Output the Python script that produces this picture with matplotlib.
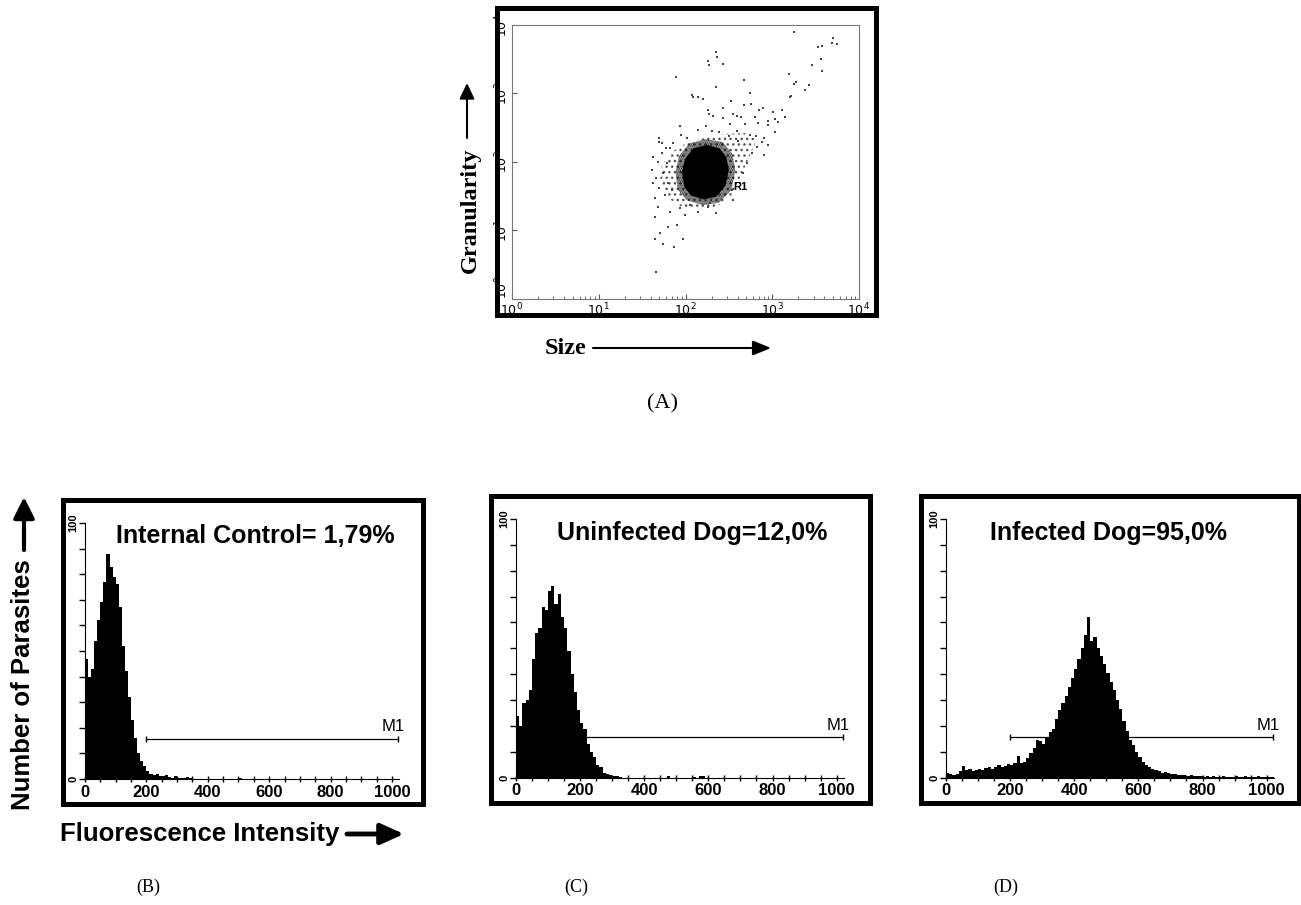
import numpy as np
import matplotlib.pyplot as plt
from matplotlib.patches import Rectangle

plt.rcParams['font.family'] = ['Liberation Sans', 'DejaVu Sans']
plt.rcParams['hatch.linewidth'] = 1.0

W, H = 1301, 905

# ---- (A) dot plot, values as log10(size), log10(granularity) ----
sparse_size_log = [3.252, 3.702, 3.690, 3.748, 3.579, 3.533, 2.354, 2.358, 3.560, 2.262,
                   2.270, 2.431, 3.460, 3.579, 3.195, 1.893, 2.676, 3.272, 3.252, 3.425,
                   2.350, 3.379, 2.742, 2.074, 2.146, 2.204, 3.214, 2.523, 2.676, 2.750,
                   2.888, 2.435, 2.254, 3.107, 2.849, 3.007, 2.550, 2.266, 2.589, 2.642,
                   2.796, 3.145, 2.427, 2.319, 2.946, 3.034, 3.072, 2.831, 2.688, 2.512,
                   1.935, 2.231, 2.946, 3.030, 2.596, 2.381, 2.143, 1.690, 1.697, 1.732,
                   2.877, 2.903, 2.742, 2.811, 2.012, 1.820, 2.089, 3.203,
                   1.628, 1.609, 1.628, 1.647, 1.685, 1.647, 1.820, 1.935, 1.897, 1.801,
                   1.705, 1.973, 1.647, 1.736, 1.866, 1.659, 2.146, 2.262, 1.743, 1.782,
                   1.725, 1.840, 2.704, 2.665, 2.819, 2.762, 2.627, 2.531, 2.281, 2.051,
                   1.660, 1.700, 1.760, 1.680, 1.800, 1.780, 1.860, 1.950, 2.300, 2.500,
                   2.600, 2.900, 2.950, 2.550, 2.350, 1.990]
sparse_gran_log = [3.893, 3.815, 3.742, 3.723, 3.698, 3.679, 3.610, 3.538, 3.504, 3.474,
                   3.416, 3.435, 3.416, 3.324, 3.280, 3.241, 3.197, 3.173, 3.139, 3.124,
                   3.100, 3.047, 3.012, 2.978, 2.949, 2.920, 2.964, 2.891, 2.832, 2.842,
                   2.784, 2.784, 2.759, 2.755, 2.759, 2.725, 2.705, 2.696, 2.672, 2.661,
                   2.652, 2.661, 2.647, 2.676, 2.599, 2.628, 2.580, 2.574, 2.550, 2.550,
                   2.530, 2.526, 2.540, 2.442, 2.453, 2.434, 2.467, 2.355, 2.288, 2.273,
                   2.297, 2.346, 2.394, 2.384, 2.346, 2.209, 2.953, 2.949,
                   2.077, 1.883, 1.689, 1.470, 1.347, 1.201, 1.274, 1.324, 1.080, 1.047,
                   0.959, 0.876, 0.872, 0.803, 0.755, 0.399, 1.274, 1.347, 1.835, 1.981,
                   2.127, 1.591, 1.981, 1.835, 2.223, 2.127, 1.689, 1.591, 1.397, 1.372,
                   1.760, 1.620, 1.520, 2.000, 1.700, 2.200, 2.280, 2.400, 2.450, 2.380,
                   2.300, 2.100, 2.250, 1.450, 1.250, 1.220]

# dense core of the R1 population (outline of the solid black blob)
core_size_log = [2.500, 2.470, 2.390, 2.245, 2.090, 1.995, 1.960, 1.985, 2.060, 2.200, 2.350, 2.460]
core_gran_log = [1.883, 2.075, 2.200, 2.250, 2.200, 2.045, 1.854, 1.640, 1.515, 1.455, 1.490, 1.650]

ring_size_log = [2.575, 2.540, 2.430, 2.235, 2.040, 1.925, 1.885, 1.910, 2.010, 2.200, 2.385, 2.530]
ring_gran_log = [1.883, 2.120, 2.290, 2.335, 2.270, 2.085, 1.854, 1.600, 1.445, 1.370, 1.405, 1.590]

halo_size_log = [2.627, 2.719, 2.823, 2.684, 2.454, 2.224, 2.028, 1.843, 1.728, 1.705,
                 1.797, 1.959, 2.166, 2.373, 2.535]
halo_gran_log = [1.766, 2.029, 2.321, 2.423, 2.409, 2.350, 2.292, 2.146, 1.956, 1.708,
                 1.474, 1.343, 1.299, 1.358, 1.518]

decades = [1, 10, 100, 1000, 10000]
decade_labels = ['$10^0$', '$10^1$', '$10^2$', '$10^3$', '$10^4$']

# ---- (B)-(D) histograms: counts per 10-channel bin, channels 0..1029 ----
channel_edges = np.arange(0, 1040, 10)

control_counts = [47, 40, 43, 54, 62, 69, 77, 88, 83, 79,
                  76, 67, 52, 42, 32, 23, 16, 10, 7, 5,
                  3, 2, 1.5, 2, 1.2, 1, 1.5, 0.8, 0.5, 1,
                  0.5, 0.4, 0.3, 0.8, 0.3, 0, 0, 0, 0, 0,
                  0, 0, 0, 0, 0, 0, 0, 0, 0, 0,
                  0.3, 0, 0, 0, 0, 0, 0, 0, 0, 0,
                  0, 0, 0, 0, 0, 0, 0, 0, 0, 0,
                  0, 0, 0, 0, 0, 0, 0, 0, 0, 0,
                  0, 0, 0, 0, 0, 0, 0, 0, 0, 0,
                  0, 0, 0, 0, 0, 0, 0, 0, 0, 0,
                  0, 0, 0]
uninfected_counts = [24, 20, 29, 30, 34, 46, 56, 58, 66, 65,
                     72, 74, 67, 71, 62, 58, 49, 40, 33, 26,
                     21, 19, 13, 10, 8, 5, 4, 2, 1.5, 1,
                     0.8, 0.5, 0.3, 0, 0, 0, 0, 0, 0, 0,
                     0, 0, 0, 0, 0, 0, 0, 0.5, 0, 0,
                     0, 0, 0, 0, 0, 0.3, 0, 0.8, 0.5, 0,
                     0, 0, 0, 0, 0, 0, 0, 0, 0, 0,
                     0, 0, 0, 0, 0, 0, 0, 0, 0, 0,
                     0, 0, 0, 0, 0, 0, 0, 0, 0, 0,
                     0, 0, 0, 0, 0, 0, 0, 0, 0, 0,
                     0, 0, 0]
infected_counts = [2, 1.5, 1, 1.5, 2.5, 4.5, 3, 3.5, 2.5, 3,
                   3.5, 3, 3.8, 4.2, 3.5, 4.3, 4.8, 4, 4.4, 5.2,
                   5, 5.5, 8.5, 5.5, 6.2, 7.5, 9.5, 11.5, 14.5, 14,
                   13, 15.5, 17.5, 19, 22.5, 26, 29, 31.5, 35, 38.5,
                   42, 46, 50, 55, 62, 53, 54.5, 50, 47, 44,
                   40.5, 37, 34, 30, 26.5, 22, 18, 14.5, 12.5, 10,
                   8, 6, 5, 4, 3.5, 3, 2.5, 2, 2.2, 1.8,
                   1.5, 1.6, 1.2, 1, 1.1, 0.8, 0.9, 0.6, 0.5, 0.6,
                   0.4, 0.5, 0.3, 0.5, 0.4, 0.3, 0.5, 0.3, 0.4, 0.3,
                   0.5, 0.3, 0.4, 0.6, 0.3, 0.4, 0.3, 0.5, 0.3, 0.4,
                   0.3, 0.4, 0.3]

hist_titles = ['Internal Control= 1,79%', 'Uninfected Dog=12,0%', 'Infected Dog=95,0%']
marker_range = [200, 1020]
marker_level = 15.6


def fig_rect(x0, y0, x1, y1):
    """pixel box (top-left origin) -> figure fraction rect"""
    return [x0 / W, 1 - y1 / H, (x1 - x0) / W, (y1 - y0) / H]


fig = plt.figure(figsize=(W / 100, H / 100), dpi=100)

# --- scatter panel ---
ax = fig.add_axes(fig_rect(512, 25, 859, 299))
ax.set_xscale('log')
ax.set_yscale('log')
ax.fill(10 ** np.array(halo_size_log), 10 ** np.array(halo_gran_log),
        facecolor='none', edgecolor='#555555', hatch='...', lw=0)
ax.fill(10 ** np.array(ring_size_log), 10 ** np.array(ring_gran_log),
        facecolor='none', edgecolor='black', hatch='.........', lw=0)
ax.fill(10 ** np.array(core_size_log), 10 ** np.array(core_gran_log), color='black', lw=0)
ax.scatter(10 ** np.array(sparse_size_log), 10 ** np.array(sparse_gran_log),
           s=0.9, marker='s', color='#444444', lw=0)
ax.text(10 ** 2.627, 10 ** 1.64, 'R1', fontsize=8, fontweight='bold', ha='center', va='center')
ax.set_xlim(1, 10000)
ax.set_ylim(1, 10000)
ax.set_xticks(decades)
ax.set_xticklabels(decade_labels, fontsize=9)
ax.set_yticks(decades)
ylabs = ax.set_yticklabels(decade_labels, fontsize=9, rotation=90, va='center')
ylabs[0].set_va('bottom')
ax.yaxis.set_minor_locator(plt.NullLocator())
ax.tick_params(which='both', direction='in', color='#555555', pad=2)
ax.tick_params(axis='y', pad=1)
ax.tick_params(which='major', length=3.5)
ax.tick_params(which='minor', length=2.5)
for s in ax.spines.values():
    s.set_color('#777777')
    s.set_linewidth(0.8)

# --- histograms ---
hist_boxes = [(85, 523, 399, 779), (516, 519, 844, 777.7), (946, 519, 1274, 777.7)]
for box, counts in zip(hist_boxes, [control_counts, uninfected_counts, infected_counts]):
    hx = fig.add_axes(fig_rect(*box))
    hx.patch.set_alpha(0)
    hx.plot(marker_range, [marker_level, marker_level], color='black', lw=0.9)
    hx.plot(marker_range, [marker_level, marker_level], ls='none', marker='|',
            color='black', ms=5, mew=1)
    hx.stairs(counts, channel_edges, fill=True, color='black', lw=0)
    hx.text(1005, marker_level + 1.8, 'M1', fontsize=12, ha='center', va='bottom')
    hx.set_xlim(0, 1023)
    hx.set_ylim(0, 100)
    hx.spines[['top', 'right']].set_visible(False)
    hx.set_xticks([0, 200, 400, 600, 800, 1000])
    hx.set_xticklabels(['0', '200', '400', '600', '800', '1000'], fontsize=12, fontweight='bold')
    hx.set_xticks(np.arange(0, 1001, 50), minor=True)
    hx.set_yticks(np.arange(0, 101, 10))
    hx.set_yticklabels(['0'] + [''] * 9 + ['100'], fontsize=8, fontweight='bold',
                       rotation=90, va='center')
    hx.tick_params(axis='x', which='both', direction='inout', length=4, width=1, pad=2)
    hx.tick_params(axis='y', direction='out', length=4, width=1, pad=1)

# --- overlay in pixel coordinates: frames, labels, arrows ---
ov = fig.add_axes([0, 0, 1, 1])
ov.set_xlim(0, W)
ov.set_ylim(H, 0)
ov.axis('off')
ov.patch.set_alpha(0)

frames = [(494, 6, 878, 318), (60, 497, 425, 806), (488, 493, 872, 805), (918, 493, 1301, 805)]
for x0, y0, x1, y1 in frames:
    ov.add_patch(Rectangle((x0 + 2.5, y0 + 2.5), x1 - x0 - 5, y1 - y0 - 5,
                           fill=False, ec='black', lw=3.6))

title_pos = [(255.5, 536), (692.5, 533), (1108.5, 533)]
for (tx, ty), t in zip(title_pos, hist_titles):
    ov.text(tx, ty, t, fontsize=18, fontweight='bold', ha='center', va='center')

ov.text(23, 685, 'Number of Parasites', fontsize=18.5, fontweight='bold',
        rotation=90, ha='center', va='center')
ov.annotate('', xy=(24, 497), xytext=(24, 550),
            arrowprops=dict(arrowstyle='-|>,head_length=0.9,head_width=0.45',
                            lw=3, color='black', mutation_scale=14, shrinkA=0, shrinkB=0))
ov.text(199.5, 834, 'Fluorescence Intensity', fontsize=18.5, fontweight='bold',
        ha='center', va='center')
ov.annotate('', xy=(404, 834), xytext=(347, 834),
            arrowprops=dict(arrowstyle='-|>,head_length=1.0,head_width=0.45',
                            lw=3.5, color='black', mutation_scale=14, shrinkA=0, shrinkB=0))

serif = ['Liberation Serif', 'DejaVu Serif']
ov.text(470, 210, 'Granularity', fontsize=17.5, fontweight='bold', family=serif,
        rotation=90, ha='center', va='center')
ov.annotate('', xy=(467, 83), xytext=(467, 138),
            arrowprops=dict(arrowstyle='-|>,head_length=0.95,head_width=0.45',
                            lw=1.5, color='black', mutation_scale=10, shrinkA=0, shrinkB=0))
ov.text(566, 348, 'Size', fontsize=17.5, fontweight='bold', family=serif,
        ha='center', va='center')
ov.annotate('', xy=(771, 348), xytext=(593, 348),
            arrowprops=dict(arrowstyle='-|>,head_length=1.1,head_width=0.45',
                            lw=1.5, color='black', mutation_scale=10, shrinkA=0, shrinkB=0))

ov.text(663, 404, '(A)', fontsize=16, family=serif, ha='center', va='center')
for (px, py), lab in zip([(148, 887), (576, 887), (1006, 887)], ['(B)', '(C)', '(D)']):
    ov.text(px, py, lab, fontsize=13, family=serif, ha='center', va='center')

fig.savefig('out.png', dpi=100)
